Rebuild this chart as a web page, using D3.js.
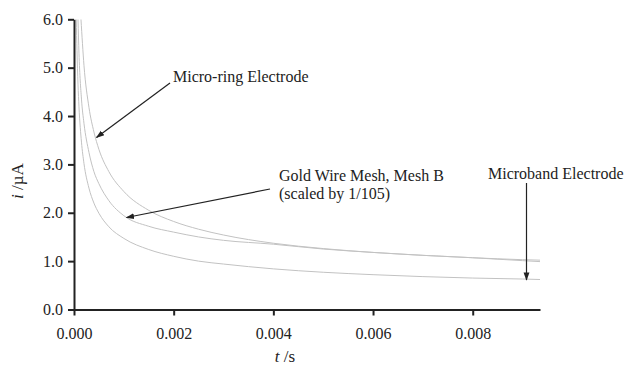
<!DOCTYPE html>
<meta charset="utf-8">
<style>
body { margin: 0; background: #fff; }
</style>
<body>
<script src="https://d3js.org/d3.v7.min.js"></script>
<script>

// time in ms, current in µA
var tRing = [0.14, 0.2, 0.3, 0.4, 0.5, 0.7, 1.0, 1.5, 2.0, 2.5, 3.0, 4.0, 5.0, 6.0, 7.0, 8.0, 9.0, 9.35],
    iRing = [6.0, 5.05, 4.18, 3.67, 3.31, 2.85, 2.44, 2.05, 1.82, 1.66, 1.54, 1.37, 1.26, 1.18, 1.12, 1.07, 1.03, 1.02];

var tMesh = [0.08, 0.1, 0.15, 0.2, 0.3, 0.4, 0.5, 0.7, 1.0, 1.5, 2.0, 2.5, 3.0, 4.0, 5.0, 6.0, 7.0, 8.0, 9.0, 9.35],
    iMesh = [6.0, 5.3, 4.35, 3.85, 3.25, 2.85, 2.6, 2.25, 1.94, 1.72, 1.6, 1.5, 1.43, 1.35, 1.25, 1.18, 1.12, 1.07, 1.01, 0.99];

var tBand = [0.045, 0.06, 0.08, 0.1, 0.15, 0.2, 0.3, 0.4, 0.5, 0.7, 1.0, 1.5, 2.0, 2.5, 3.0, 4.0, 5.0, 6.0, 7.0, 8.0, 9.0, 9.35],
    iBand = [6.0, 5.35, 4.66, 4.19, 3.46, 3.02, 2.51, 2.2, 1.99, 1.71, 1.47, 1.24, 1.1, 1.0, 0.94, 0.84, 0.77, 0.72, 0.68, 0.65, 0.63, 0.62];

var xTicks = [0, 0.002, 0.004, 0.006, 0.008],
    yTicks = [0, 1, 2, 3, 4, 5, 6];

var serif = "'Liberation Serif', 'Times New Roman', serif";

var w = 627,
    h = 367;

var svg = d3.select("body").append("svg")
    .attr("width", w)
    .attr("height", h);

var x = d3.scaleLinear().domain([0, 0.00935]).range([74, 540]),
    y = d3.scaleLinear().domain([0, 6]).range([309.5, 19.3]);

svg.append("defs").append("clipPath").attr("id", "plot")
  .append("rect")
    .attr("x", 74).attr("y", 19.3)
    .attr("width", 470).attr("height", 292);

var line = d3.line()
    .x(function(d) { return x(d[0] / 1000); })
    .y(function(d) { return y(d[1]); })
    .curve(d3.curveMonotoneX);

[[tBand, iBand], [tMesh, iMesh], [tRing, iRing]].forEach(function(s) {
  svg.append("path")
      .datum(d3.zip(s[0], s[1]))
      .attr("clip-path", "url(#plot)")
      .attr("d", line)
      .attr("fill", "none")
      .attr("stroke", "#c2c2c2")
      .attr("stroke-width", 1);
});

// axes
var xAxis = svg.append("g")
    .attr("transform", "translate(0," + y(0) + ")")
    .call(d3.axisBottom(x).tickValues(xTicks).tickFormat(d3.format(".3f")).tickSize(6).tickSizeOuter(0));

var yAxis = svg.append("g")
    .attr("transform", "translate(" + x(0) + ",0)")
    .call(d3.axisLeft(y).tickValues(yTicks).tickFormat(d3.format(".1f")).tickSize(6).tickSizeOuter(0));

[xAxis, yAxis].forEach(function(g) {
  g.select(".domain").attr("stroke", "#222").attr("stroke-width", 2);
  g.selectAll(".tick line").attr("stroke", "#222").attr("stroke-width", 2);
  g.selectAll(".tick text")
      .style("font-family", serif)
      .style("font-size", "16px")
      .attr("fill", "#222");
});
xAxis.selectAll(".tick text").attr("dy", null).attr("y", 29);
yAxis.selectAll(".tick text").attr("x", -11);

// axis titles
var yt = svg.append("text")
    .attr("transform", "translate(23,181) rotate(-90)")
    .attr("text-anchor", "middle")
    .style("font-family", serif)
    .style("font-size", "17px")
    .attr("fill", "#222");
yt.append("tspan").attr("font-style", "italic").text("i");
yt.append("tspan").text(" /\u00b5A");

var xt = svg.append("text")
    .attr("x", 285)
    .attr("y", 362)
    .attr("text-anchor", "middle")
    .style("font-family", serif)
    .style("font-size", "17px")
    .attr("fill", "#222");
xt.append("tspan").attr("font-style", "italic").text("t");
xt.append("tspan").text(" /s");

// annotations
svg.append("marker")
    .attr("id", "head")
    .attr("viewBox", "0 0 10 10")
    .attr("refX", 9).attr("refY", 5)
    .attr("markerWidth", 7).attr("markerHeight", 7)
    .attr("orient", "auto")
  .append("path")
    .attr("d", "M0,1.5L10,5L0,8.5Z")
    .attr("fill", "#222");

var notes = [
  {lines: ["Micro-ring Electrode"], tx: 173, ty: 82, from: [170, 83], to: [96.5, 137.5]},
  {lines: ["Gold Wire Mesh, Mesh B", "(scaled by 1/105)"], tx: 279, ty: 181, from: [270, 189], to: [126.5, 217.5]},
  {lines: ["Microband Electrode"], tx: 488, ty: 179, from: [526.5, 183], to: [526.5, 280]}
];

notes.forEach(function(n) {
  var t = svg.append("text")
      .attr("x", n.tx)
      .attr("y", n.ty)
      .style("font-family", serif)
      .style("font-size", "16px")
      .attr("fill", "#222");
  n.lines.forEach(function(s, i) {
    t.append("tspan").attr("x", n.tx).attr("dy", i ? 17.5 : 0).text(s);
  });
  svg.append("line")
      .attr("x1", n.from[0]).attr("y1", n.from[1])
      .attr("x2", n.to[0]).attr("y2", n.to[1])
      .attr("stroke", "#222")
      .attr("stroke-width", 1.2)
      .attr("marker-end", "url(#head)");
});

</script>
